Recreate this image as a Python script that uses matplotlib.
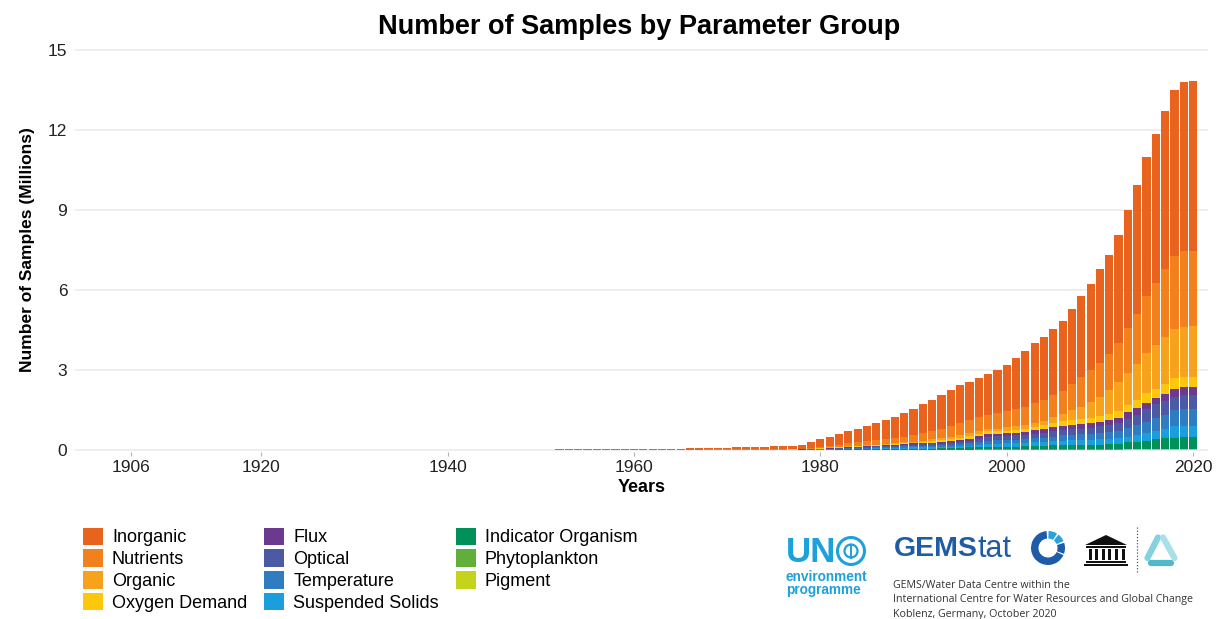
import matplotlib
matplotlib.use("Agg")
import matplotlib.pyplot as plt
import numpy as np
from matplotlib.patches import Patch, Rectangle, Wedge, Circle, Polygon

plt.rcParams["font.family"] = ["Liberation Sans", "DejaVu Sans"]

# ---- data (millions of samples per year) ----
early_years = list(range(1906, 1960))
early_inorganic = [
    0.004, 0.003, 0, 0, 0, 0, 0.002, 0, 0, 0,
    0, 0, 0, 0, 0, 0, 0, 0, 0, 0,
    0.003, 0.003, 0.003, 0.003, 0.002, 0, 0, 0, 0, 0,
    0.004, 0.004, 0.005, 0.005, 0.005, 0.004, 0.004, 0.005, 0.005, 0.006,
    0.007, 0.008, 0.009, 0.010, 0.012, 0.013, 0.015, 0.016, 0.018, 0.020,
    0.021, 0.023, 0.025, 0.027,
]

years = list(range(1960, 2021))
inorganic = [
    0.028, 0.031, 0.033, 0.036, 0.038, 0.040, 0.048, 0.052, 0.056, 0.060,
    0.064, 0.072, 0.080, 0.088, 0.095, 0.110, 0.120, 0.120, 0.150, 0.210,
    0.28, 0.34, 0.40, 0.46, 0.51, 0.57, 0.63, 0.71, 0.77, 0.87,
    0.98, 1.09, 1.17, 1.29, 1.37, 1.42, 1.41, 1.48, 1.54, 1.62,
    1.75, 1.93, 2.11, 2.26, 2.38, 2.49, 2.63, 2.81, 3.05, 3.21,
    3.50, 3.71, 4.06, 4.43, 4.82, 5.23, 5.58, 5.92, 6.24, 6.37, 6.39,
]
nutrients = [
    0.004, 0.004, 0.005, 0.006, 0.007, 0.007, 0.009, 0.009, 0.010, 0.011,
    0.012, 0.013, 0.015, 0.016, 0.018, 0.020, 0.020, 0.020, 0.020, 0.030,
    0.05, 0.07, 0.09, 0.11, 0.13, 0.15, 0.18, 0.19, 0.20, 0.22,
    0.25, 0.27, 0.31, 0.34, 0.38, 0.45, 0.50, 0.52, 0.54, 0.58,
    0.60, 0.63, 0.66, 0.73, 0.78, 0.83, 0.87, 0.98, 1.10, 1.22,
    1.27, 1.35, 1.45, 1.66, 1.88, 2.15, 2.33, 2.55, 2.75, 2.84, 2.83,
]
organic = [
    0.001, 0.001, 0.001, 0.001, 0.001, 0.002, 0.002, 0.002, 0.002, 0.002,
    0.002, 0.003, 0.003, 0.004, 0.004, 0.005, 0.005, 0.005, 0.010, 0.010,
    0.01, 0.02, 0.02, 0.02, 0.02, 0.02, 0.02, 0.02, 0.03, 0.03,
    0.04, 0.05, 0.07, 0.08, 0.10, 0.10, 0.11, 0.10, 0.09, 0.10,
    0.12, 0.13, 0.14, 0.14, 0.15, 0.21, 0.26, 0.38, 0.47, 0.59,
    0.73, 0.91, 1.11, 1.21, 1.35, 1.50, 1.65, 1.77, 1.81, 1.85, 1.88,
]
oxygen_demand = [
    0, 0.001, 0.001, 0.001, 0.001, 0.001, 0.001, 0.002, 0.002, 0.002,
    0.002, 0.002, 0.002, 0.002, 0.002, 0.003, 0.003, 0.004, 0.005, 0.005,
    0.01, 0.01, 0.01, 0.02, 0.02, 0.02, 0.02, 0.03, 0.02, 0.03,
    0.03, 0.04, 0.05, 0.06, 0.07, 0.09, 0.10, 0.10, 0.09, 0.09,
    0.10, 0.11, 0.12, 0.14, 0.15, 0.16, 0.18, 0.17, 0.17, 0.17,
    0.21, 0.21, 0.23, 0.28, 0.31, 0.37, 0.33, 0.38, 0.42, 0.40, 0.38,
]
flux = [
    0, 0, 0, 0, 0, 0, 0, 0, 0, 0,
    0, 0, 0, 0, 0.001, 0.002, 0.002, 0.003, 0.004, 0.005,
    0.01, 0.01, 0.01, 0.01, 0.02, 0.02, 0.02, 0.03, 0.04, 0.04,
    0.04, 0.05, 0.05, 0.07, 0.08, 0.08, 0.08, 0.09, 0.10, 0.10,
    0.10, 0.10, 0.11, 0.12, 0.14, 0.15, 0.16, 0.17, 0.18, 0.21,
    0.18, 0.20, 0.21, 0.25, 0.25, 0.22, 0.25, 0.26, 0.29, 0.31, 0.33,
]
optical = [
    0, 0, 0, 0, 0, 0, 0, 0, 0, 0,
    0, 0, 0, 0, 0, 0, 0.001, 0.003, 0.004, 0.005,
    0.01, 0.01, 0.02, 0.02, 0.02, 0.03, 0.04, 0.04, 0.05, 0.05,
    0.06, 0.06, 0.06, 0.06, 0.07, 0.08, 0.09, 0.12, 0.15, 0.15,
    0.15, 0.16, 0.16, 0.17, 0.19, 0.20, 0.21, 0.21, 0.22, 0.21,
    0.26, 0.27, 0.31, 0.35, 0.37, 0.47, 0.50, 0.53, 0.52, 0.51, 0.51,
]
temperature = [
    0, 0, 0, 0, 0, 0, 0, 0, 0, 0,
    0, 0, 0, 0, 0, 0, 0, 0.002, 0.003, 0.005,
    0.01, 0.01, 0.02, 0.02, 0.03, 0.03, 0.03, 0.03, 0.04, 0.05,
    0.05, 0.05, 0.06, 0.06, 0.06, 0.07, 0.09, 0.11, 0.13, 0.13,
    0.12, 0.13, 0.14, 0.15, 0.15, 0.17, 0.19, 0.21, 0.22, 0.23,
    0.22, 0.25, 0.25, 0.31, 0.38, 0.44, 0.50, 0.54, 0.60, 0.63, 0.63,
]
suspended_solids = [
    0, 0, 0, 0, 0, 0, 0, 0, 0, 0,
    0, 0, 0, 0, 0, 0, 0, 0.002, 0.002, 0.005,
    0.01, 0.02, 0.01, 0.02, 0.02, 0.02, 0.03, 0.04, 0.03, 0.04,
    0.04, 0.05, 0.05, 0.05, 0.06, 0.07, 0.07, 0.09, 0.10, 0.11,
    0.13, 0.13, 0.12, 0.13, 0.15, 0.16, 0.16, 0.17, 0.18, 0.18,
    0.20, 0.20, 0.22, 0.22, 0.25, 0.28, 0.31, 0.34, 0.42, 0.40, 0.40,
]
indicator_organism = [
    0, 0, 0, 0, 0, 0, 0, 0, 0, 0,
    0, 0, 0, 0, 0, 0, 0, 0.001, 0.002, 0.005,
    0.008, 0.008, 0.017, 0.017, 0.017, 0.027, 0.027, 0.027, 0.035, 0.035,
    0.044, 0.044, 0.044, 0.052, 0.052, 0.062, 0.080, 0.085, 0.105, 0.105,
    0.105, 0.11, 0.13, 0.135, 0.135, 0.145, 0.16, 0.16, 0.15, 0.16,
    0.17, 0.18, 0.19, 0.24, 0.27, 0.29, 0.35, 0.38, 0.41, 0.45, 0.45,
]
phytoplankton = [
    0, 0, 0, 0, 0, 0, 0, 0, 0, 0,
    0, 0, 0, 0, 0, 0, 0, 0, 0, 0,
    0.001, 0.001, 0.002, 0.002, 0.002, 0.002, 0.002, 0.002, 0.003, 0.003,
    0.004, 0.004, 0.004, 0.005, 0.005, 0.005, 0.005, 0.01, 0.01, 0.01,
    0.01, 0.01, 0.01, 0.015, 0.015, 0.015, 0.02, 0.02, 0.02, 0.02,
    0.02, 0.02, 0.02, 0.025, 0.025, 0.03, 0.03, 0.03, 0.03, 0.03, 0.03,
]
pigment = [
    0, 0, 0, 0, 0, 0, 0, 0, 0, 0,
    0, 0, 0, 0, 0, 0, 0, 0, 0, 0,
    0.001, 0.001, 0.001, 0.001, 0.001, 0.001, 0.001, 0.001, 0.001, 0.002,
    0.002, 0.002, 0.002, 0.003, 0.003, 0.003, 0.005, 0.005, 0.005, 0.005,
    0.005, 0.005, 0.005, 0.01, 0.01, 0.01, 0.01, 0.01, 0.01, 0.01,
    0.01, 0.01, 0.01, 0.015, 0.015, 0.02, 0.02, 0.02, 0.02, 0.02, 0.02,
]

groups = [
    ("Inorganic", inorganic, "#E8641E"),
    ("Nutrients", nutrients, "#F2801C"),
    ("Organic", organic, "#F6A21C"),
    ("Oxygen Demand", oxygen_demand, "#FDC70C"),
    ("Flux", flux, "#6B3A8E"),
    ("Optical", optical, "#4C5AA5"),
    ("Temperature", temperature, "#2F7CC0"),
    ("Suspended Solids", suspended_solids, "#1B9FDC"),
    ("Indicator Organism", indicator_organism, "#00905A"),
    ("Phytoplankton", phytoplankton, "#60AF3A"),
    ("Pigment", pigment, "#C5D31A"),
]
x_ticks = [1906, 1920, 1940, 1960, 1980, 2000, 2020]

# ---- figure ----
W, H = 1223, 619
fig = plt.figure(figsize=(W / 100, H / 100), dpi=100)
ax = fig.add_axes([75 / W, 1 - 452 / H, 1133 / W, 404.2 / H])

all_years = np.array(early_years + years)
n_early = len(early_years)
bottom = np.zeros(len(all_years))
# stack bottom-up (ggplot puts the first factor level on top)
for name, vals, color in reversed(groups):
    if name == "Inorganic":
        full = np.array(early_inorganic + vals)
    else:
        full = np.concatenate([np.zeros(n_early), vals])
    ax.bar(all_years, full, bottom=bottom, width=0.88, color=color,
           linewidth=0, zorder=2)
    bottom += full

ax.set_xlim(1900.0, 2021.6)
ax.set_ylim(-0.08, 15.08)
ax.set_yticks([0, 3, 6, 9, 12, 15])
ax.set_xticks(x_ticks)
ax.yaxis.grid(True, color="#ebebeb", linewidth=1.2, zorder=0)
ax.set_axisbelow(True)
for sp in ax.spines.values():
    sp.set_visible(False)
ax.tick_params(axis="y", length=0, pad=5.5, labelsize=12.5, labelcolor="#222222")
ax.tick_params(axis="x", length=3, width=0.8, color="#b5b5b5", pad=3,
               labelsize=12.5, labelcolor="#222222")
ax.set_xlabel("Years", fontsize=13, fontweight="bold", labelpad=3)
ax.set_ylabel("Number of Samples (Millions)", fontsize=12.5, fontweight="bold",
              labelpad=9)
fig.text(639 / W, 1 - 27 / H, "Number of Samples by Parameter Group",
         fontsize=19.5, fontweight="bold", ha="center", va="center")

handles = [Patch(facecolor=c, edgecolor="none", label=n) for n, _, c in groups]
fig.legend(handles=handles, loc="upper left", bbox_to_anchor=(83 / W, 1 - 527.5 / H),
           ncol=3, frameon=False, fontsize=13, handlelength=1.1, handleheight=1.1,
           labelspacing=0.17, handletextpad=0.5, columnspacing=0.95,
           borderpad=0, borderaxespad=0)

# ---- logos / credits drawn in pixel coordinates ----
lay = fig.add_axes([0, 0, 1, 1], zorder=-1)
lay.set_xlim(0, W)
lay.set_ylim(H, 0)
lay.axis("off")

un_blue = "#1DA1DB"
lay.text(786, 552, "UN", fontsize=25, fontweight="bold", color=un_blue,
         ha="left", va="center")
lay.add_patch(Circle((851, 551), 13.5, facecolor="none", edgecolor=un_blue, lw=2.2))
lay.add_patch(Circle((851, 551), 6.5, facecolor="none", edgecolor=un_blue, lw=1.6))
lay.plot([851, 851], [545, 558], color=un_blue, lw=1.4)
lay.text(786, 577, "environment", fontsize=9.8, fontweight="bold", color=un_blue,
         ha="left", va="center")
lay.text(786, 590, "programme", fontsize=9.8, fontweight="bold", color=un_blue,
         ha="left", va="center")

gems_blue = "#1F5CA8"
lay.text(894, 549, "GEMS", fontsize=20.5, fontweight="bold", color=gems_blue,
         ha="left", va="center")
lay.text(978, 549, "tat", fontsize=22, color=gems_blue, ha="left", va="center")
for t1, t2, c in [(95, 335, gems_blue), (-20, 18, gems_blue),
                  (24, 52, "#27A3DD"), (58, 88, "#27A3DD")]:
    lay.add_patch(Wedge((1048, 548), 17, -t2, -t1, width=7.5, facecolor=c,
                        edgecolor="none"))

# UNESCO temple
lay.add_patch(Polygon([(1085, 545), (1106, 535), (1127, 545)], closed=True,
                      facecolor="#111111", edgecolor="none"))
lay.add_patch(Rectangle((1086, 545.5), 40, 2.5, facecolor="#111111", edgecolor="none"))
for cx in np.linspace(1088.5, 1121.5, 6):
    lay.add_patch(Rectangle((cx, 549), 3, 11, facecolor="#111111", edgecolor="none"))
lay.add_patch(Rectangle((1086, 560.5), 40, 2.2, facecolor="#111111", edgecolor="none"))
lay.add_patch(Rectangle((1084, 563.5), 44, 2.4, facecolor="#111111", edgecolor="none"))
lay.plot([1136.5, 1136.5], [527, 574], color="#555555", lw=0.9, ls=(0, (1, 1.5)))

# ICWRGC triangle
lay.plot([1158, 1147.5], [537.5, 558], color="#84D2DD", lw=4.5, solid_capstyle="round")
lay.plot([1151, 1171], [563, 563], color="#4FB9CA", lw=4.5, solid_capstyle="round")
lay.plot([1174.5, 1163], [558, 537.5], color="#A9DFE7", lw=4.5, solid_capstyle="round")

credit = ["GEMS/Water Data Centre within the",
          "International Centre for Water Resources and Global Change",
          "Koblenz, Germany, October 2020"]
for i, line in enumerate(credit):
    lay.text(893, 585 + 14.5 * i, line, fontsize=7.7, family="Open Sans",
             color="#333333", ha="left", va="center")

fig.savefig("out.png", dpi=100)
